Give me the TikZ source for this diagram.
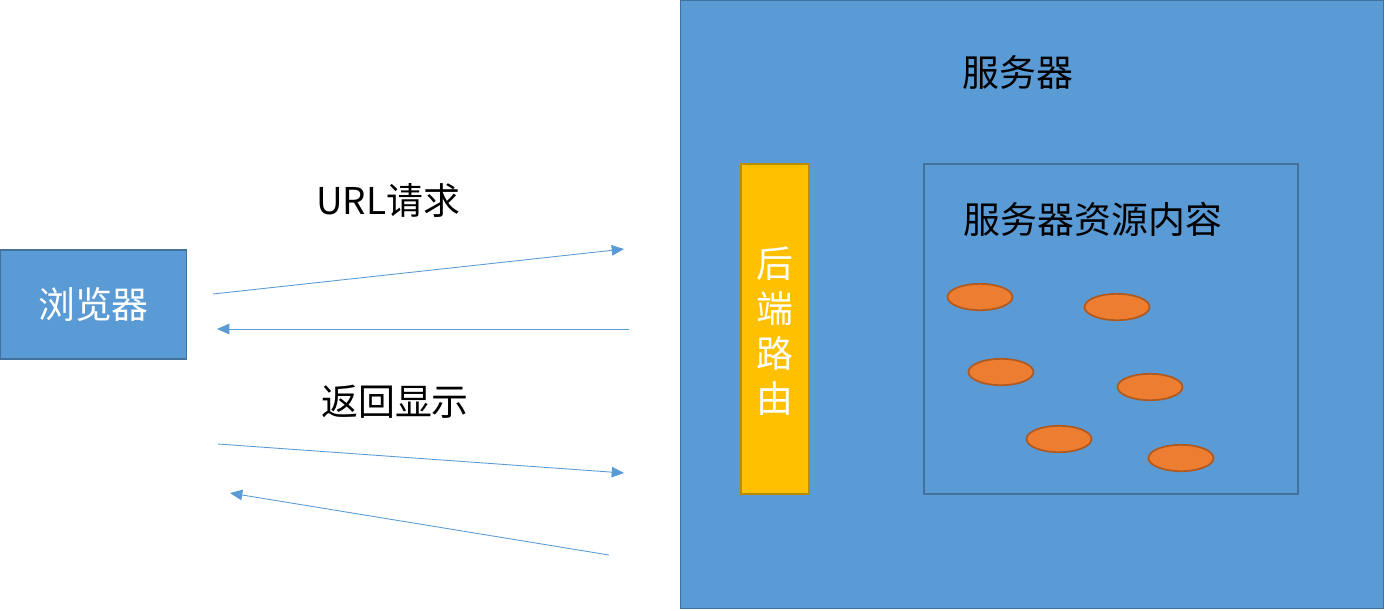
\documentclass[tikz,border=0pt]{standalone}
\usepackage{fontspec}
\setmainfont{Noto Sans CJK SC}
\usepackage{tikz}
\usetikzlibrary{arrows.meta, shapes.geometric}
\definecolor{boxblue}{HTML}{5B9BD5}
\definecolor{edgeblue}{HTML}{41719C}
\definecolor{routeyellow}{HTML}{FFC000}
\definecolor{routeedge}{HTML}{BC8C00}
\definecolor{resorange}{HTML}{ED7D31}
\definecolor{resedge}{HTML}{AE5A21}
\tikzset{
	bluebox/.style={draw=edgeblue, fill=boxblue, line width=1pt},
	res/.style={draw=resedge, fill=resorange, line width=1pt, ellipse, minimum width=37pt, minimum height=15pt, inner sep=0pt},
	msg/.style={draw=boxblue, line width=0.5pt, -{Triangle[length=7pt,width=6pt]}},
	bigtext/.style={font=\fontsize{21}{25.5}\selectfont}
}

\begin{document}
\begin{tikzpicture}[x=0.02cm, y=-0.02cm]
	\useasboundingbox (0,0) rectangle (1385,610);
	% browser
	\node[bluebox, minimum width=3.72cm, minimum height=2.18cm, bigtext, text=white] (browser) at (93.5,304.5) {浏览器};
	% server
	\node[bluebox, minimum width=14.06cm, minimum height=12.16cm] (server) at (1032,304.5) {};
	\node[bigtext] (servertitle) at (1018,72) {服务器};
	\node[draw=routeedge, fill=routeyellow, line width=1pt, minimum width=1.36cm, minimum height=6.6cm] (route) at (775,329) {};
	\node[bigtext, text=white, align=center] (routetext) at (775,331) {后\\端\\路\\由};
	\node[draw=edgeblue, line width=1pt, minimum width=7.48cm, minimum height=6.6cm] (content) at (1111,329) {};
	\node[bigtext] (contenttitle) at (1093,219) {服务器资源内容};
	% resources
	\node[res] (r1) at (980,297) {};
	\node[res] (r2) at (1117,307) {};
	\node[res] (r3) at (1001,372) {};
	\node[res] (r4) at (1150,387) {};
	\node[res] (r5) at (1059,439) {};
	\node[res] (r6) at (1181,458) {};
	% requests
	\coordinate (a1) at (213,294);
	\coordinate (b1) at (624,249);
	\coordinate (a2) at (629,329);
	\coordinate (b2) at (217,329);
	\coordinate (a3) at (218,444);
	\coordinate (b3) at (624,473);
	\coordinate (a4) at (609,555);
	\coordinate (b4) at (230,493);
	\draw[msg] (a1) -- (b1);
	\draw[msg] (a2) -- (b2);
	\draw[msg] (a3) -- (b3);
	\draw[msg] (a4) -- (b4);
	\node[bigtext] (urltext) at (388,201) {URL请求};
	\node[bigtext] (backtext) at (395,402) {返回显示};
\end{tikzpicture}
\end{document}
